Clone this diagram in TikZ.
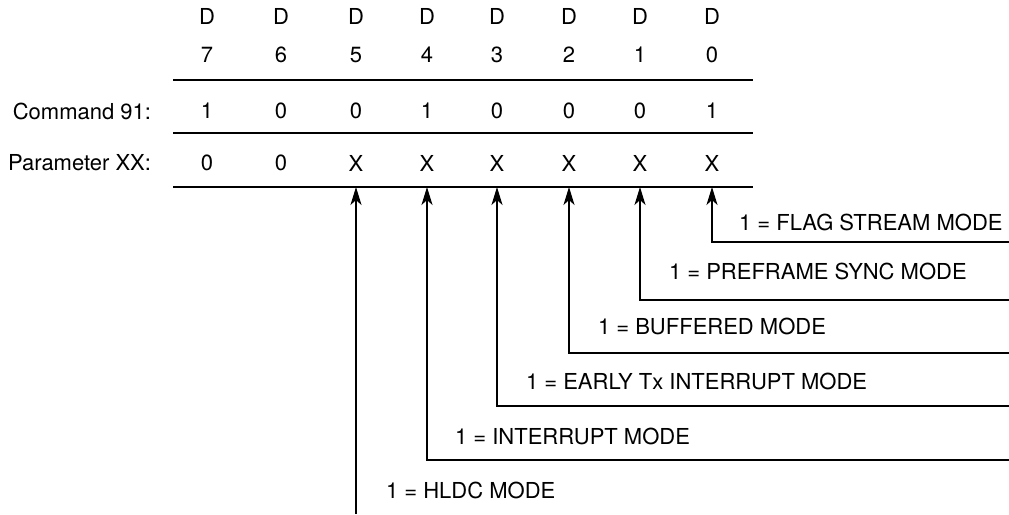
\documentclass[tikz,border=0pt]{standalone}
\usepackage{fontspec}
\setmainfont{TeX Gyre Heros}
\usetikzlibrary{arrows.meta,positioning}

\begin{document}
\begin{tikzpicture}[x=1pt,y=-1pt,line width=2pt,
                    >={Stealth[length=18pt,width=11pt,inset=5pt]}]
	  \tikzstyle{every node}=[font=\fontsize{22}{26}\selectfont,inner sep=0pt]
	  \tikzstyle{rowname}=[anchor=east]
	  \tikzstyle{mode}=[anchor=west]

	  \useasboundingbox (0,0) rectangle (1009,514);

	  % bit headings
	  \node (d7) at (207,16) {D};
	  \node (d6) at (281,16) {D};
	  \node (d5) at (356,16) {D};
	  \node (d4) at (427,16) {D};
	  \node (d3) at (497,16) {D};
	  \node (d2) at (569,16) {D};
	  \node (d1) at (640,16) {D};
	  \node (d0) at (712,16) {D};

	  \node (n7) at (207,55) {7};
	  \node (n6) at (281,55) {6};
	  \node (n5) at (356,55) {5};
	  \node (n4) at (427,55) {4};
	  \node (n3) at (497,55) {3};
	  \node (n2) at (569,55) {2};
	  \node (n1) at (640,55) {1};
	  \node (n0) at (712,55) {0};

	  % command byte
	  \node[rowname] (cmd) at (152,111) {Command 91:};
	  \node (c7) at (207,111) {1};
	  \node (c6) at (281,111) {0};
	  \node (c5) at (356,111) {0};
	  \node (c4) at (427,111) {1};
	  \node (c3) at (497,111) {0};
	  \node (c2) at (569,111) {0};
	  \node (c1) at (640,111) {0};
	  \node (c0) at (712,111) {1};

	  % parameter byte
	  \node[rowname] (par) at (152,163) {Parameter XX:};
	  \node (p7) at (207,163) {0};
	  \node (p6) at (281,163) {0};
	  \node (p5) at (356,163) {X};
	  \node (p4) at (427,163) {X};
	  \node (p3) at (497,163) {X};
	  \node (p2) at (569,163) {X};
	  \node (p1) at (640,163) {X};
	  \node (p0) at (712,163) {X};

	  % rules under each row
	  \draw (173,80) -- (753,80);
	  \draw (173,133) -- (753,133);
	  \draw (173,187) -- (753,187);

	  % arrow heads on the bottom rule
	  \coordinate (t5) at (p5 |- 0,187);
	  \coordinate (t4) at (p4 |- 0,187);
	  \coordinate (t3) at (p3 |- 0,187);
	  \coordinate (t2) at (p2 |- 0,187);
	  \coordinate (t1) at (p1 |- 0,187);
	  \coordinate (t0) at (p0 |- 0,187);

	  % far ends of the leader lines
	  \coordinate (e0) at (1009,242);
	  \coordinate (e1) at (1009,300);
	  \coordinate (e2) at (1009,353);
	  \coordinate (e3) at (1009,406);
	  \coordinate (e4) at (1009,460);
	  \coordinate (e5) at (t5 |- 0,514);

	  \draw[->] (e0) -| (t0);
	  \draw[->] (e1) -| (t1);
	  \draw[->] (e2) -| (t2);
	  \draw[->] (e3) -| (t3);
	  \draw[->] (e4) -| (t4);
	  \draw[->] (e5) -- (t5);

	  \node[mode] (m0) at (738,222) {1 = FLAG STREAM MODE};
	  \node[mode] (m1) at (668,271) {1 = PREFRAME SYNC MODE};
	  \node[mode] (m2) at (597,326) {1 = BUFFERED MODE};
	  \node[mode] (m3) at (525,381) {1 = EARLY Tx INTERRUPT MODE};
	  \node[mode] (m4) at (454,436) {1 = INTERRUPT MODE};
	  \node[mode] (m5) at (385,490) {1 = HLDC MODE};
\end{tikzpicture}
\end{document}
